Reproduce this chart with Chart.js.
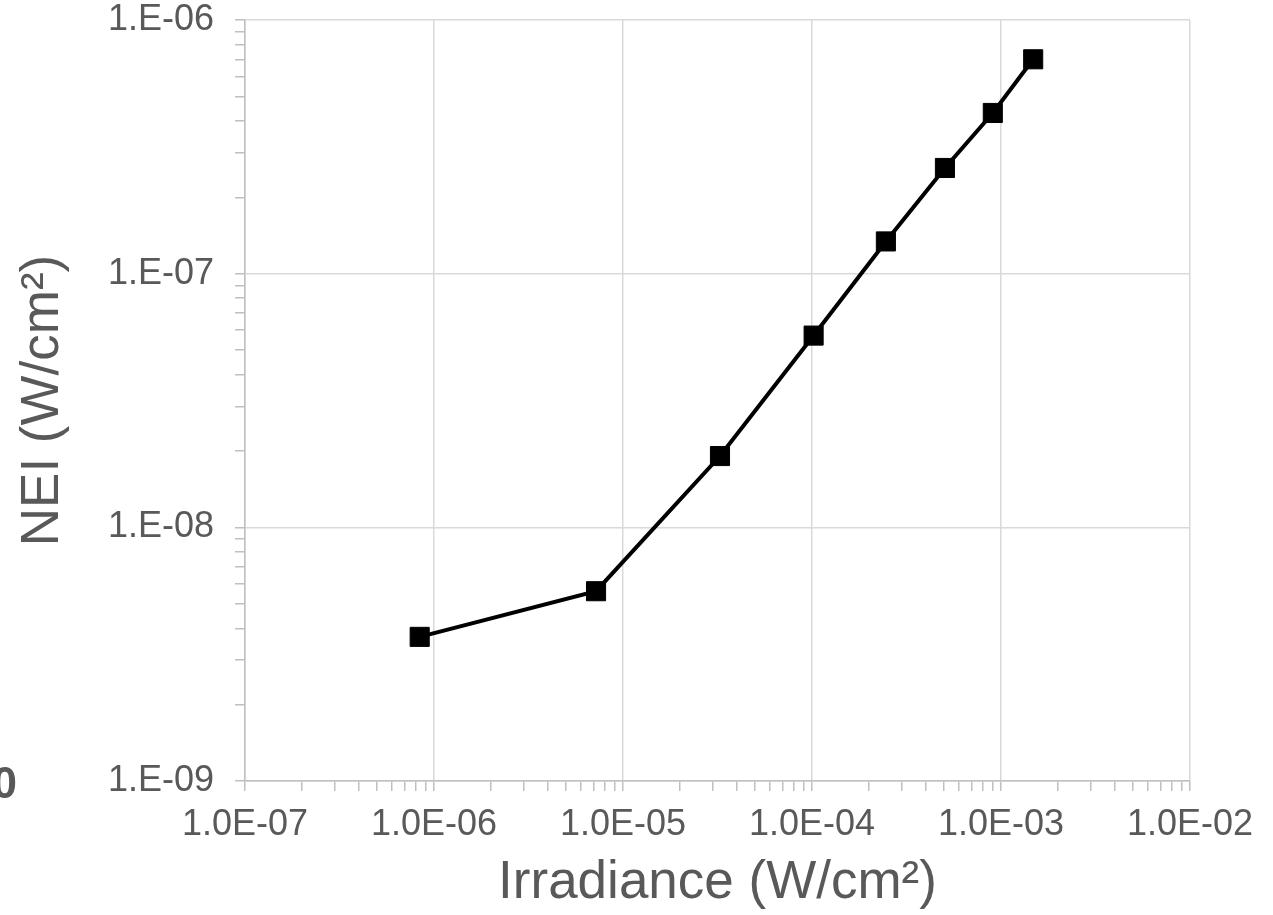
<!DOCTYPE html>
<html>
<head>
<meta charset="utf-8">
<script src="https://cdn.jsdelivr.net/npm/chart.js@4/dist/chart.umd.min.js"></script>
<style>
    body { margin: 0; background: #fff; }
    #wrap { width: 1273px; height: 915px; position: relative; }
</style>
</head>
<body>
<div id="wrap"><canvas id="neiChart"></canvas></div>
<script>
// data
const irradiance = [8.4e-7, 7.2e-6, 3.26e-5, 1.02e-4, 2.46e-4, 5.05e-4, 9.05e-4, 1.48e-3];
const nei = [3.7e-9, 5.6e-9, 1.91e-8, 5.7e-8, 1.34e-7, 2.61e-7, 4.3e-7, 7.0e-7];

const xDecades = [-7, -6, -5, -4, -3, -2];
const xTickLabels = ["1.0E-07", "1.0E-06", "1.0E-05", "1.0E-04", "1.0E-03", "1.0E-02"];
const yDecades = [-9, -8, -7, -6];
const yTickLabels = ["1.E-09", "1.E-08", "1.E-07", "1.E-06"];

const FONT = "'Liberation Sans', Arial, sans-serif";
const GRID = "#d9d9d9";
const AXIS = "#bfbfbf";
const TEXT = "#595959";

// decade ticks plus 2..9 minor ticks
function logTicks(decades, labels) {
    const ticks = [];
    decades.forEach((d, i) => {
        ticks.push({ value: Math.pow(10, d), major: true, text: labels[i] });
        if (i < decades.length - 1) {
            for (let k = 2; k <= 9; k++) ticks.push({ value: k * Math.pow(10, d), major: false, text: "" });
        }
    });
    return ticks;
}

const strayLabel = {
    id: "strayLabel",
    afterDraw(chart) {
        const c = chart.ctx;
        c.save();
        c.fillStyle = TEXT;
        c.font = "bold 44px " + FONT;
        c.textAlign = "right";
        c.textBaseline = "middle";
        c.fillText("0", 17, 786);
        c.restore();
    }
};

function axisOpts(decades, labels, min, max, title, titlePad) {
    return {
        type: "logarithmic",
        min: min,
        max: max,
        afterBuildTicks: scale => { scale.ticks = logTicks(decades, labels); },
        grid: {
            color: ctx => (ctx.tick && ctx.tick.major) ? GRID : "rgba(0,0,0,0)",
            lineWidth: 1.5,
            tickColor: AXIS,
            tickLength: 10,
            drawTicks: true
        },
        border: { color: AXIS, width: 1.5 },
        ticks: {
            autoSkip: false,
            maxRotation: 0,
            minRotation: 0,
            color: TEXT,
            font: { family: FONT, size: 36, lineHeight: 1.1 },
            callback: (v, i, ticks) => ticks[i].text || ""
        },
        title: {
            display: true,
            text: title,
            color: TEXT,
            font: { family: FONT, size: 53, lineHeight: 1.2 },
            padding: titlePad
        }
    };
}

document.addEventListener("DOMContentLoaded", () => {
    const ctx = document.getElementById("neiChart").getContext("2d");
    const xAxis = axisOpts(xDecades, xTickLabels, 1e-7, 1e-2, "Irradiance (W/cm²)", { top: 0, bottom: 0 });
    xAxis.ticks.padding = 14;
    xAxis.afterFit = scale => {
        scale.height = 134;
        scale.paddingLeft = 0;
        scale.paddingRight = 0;
    };
    const yAxis = axisOpts(yDecades, yTickLabels, 1e-9, 1e-6, "NEI (W/cm²)", { top: 12, bottom: 0 });
    yAxis.ticks.padding = 21;
    yAxis.afterFit = scale => {
        scale.width = 245;
        scale.paddingTop = 0;
        scale.paddingBottom = 0;
    };

    new Chart(ctx, {
        type: "scatter",
        data: {
            datasets: [{
                data: irradiance.map((x, i) => ({ x: x, y: nei[i] })),
                showLine: true,
                borderColor: "#000",
                borderWidth: 4,
                backgroundColor: "#000",
                pointStyle: "rect",
                pointRadius: 13.5,
                pointBorderWidth: 1,
                pointBorderColor: "#000",
                tension: 0
            }]
        },
        options: {
            responsive: true,
            maintainAspectRatio: false,
            animation: false,
            layout: { padding: { left: 0, top: 20, right: 83, bottom: 0 } },
            plugins: { legend: { display: false }, tooltip: { enabled: false } },
            scales: { x: xAxis, y: yAxis }
        },
        plugins: [strayLabel]
    });
});
</script>
</body>
</html>
